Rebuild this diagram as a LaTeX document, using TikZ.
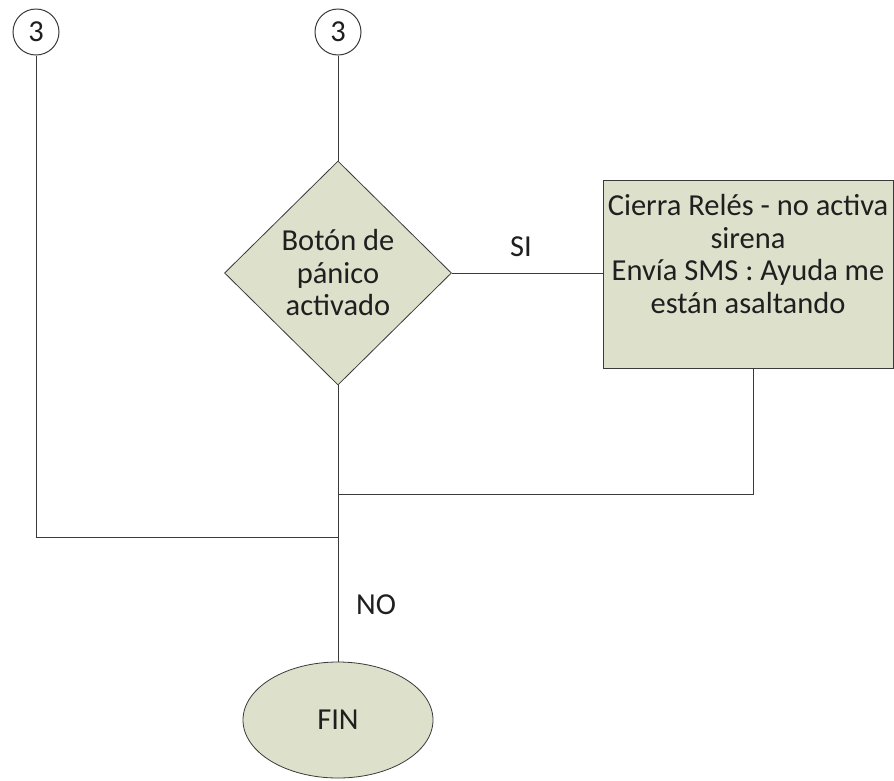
\documentclass[tikz,border=0pt]{standalone}
\usepackage{fontspec}
\setmainfont{Carlito}
\usetikzlibrary{shapes.geometric}
\definecolor{boxfill}{HTML}{DDE0CB}
\definecolor{inkline}{HTML}{3A3A3A}
\begin{document}
\begin{tikzpicture}[x=1pt,y=-1pt,
  every node/.style={font=\fontsize{30.5}{32.5}\selectfont, text=black!88},
  conn/.style={draw=inkline, line width=0.9pt},
  connector/.style={circle, draw=inkline, line width=1pt, minimum size=46pt, inner sep=0pt, fill=white},
  decision/.style={diamond, draw=inkline, line width=0.8pt, fill=boxfill, minimum width=227pt, minimum height=224pt, inner sep=0pt, align=center, aspect=1},
  process/.style={rectangle, draw=inkline, line width=0.9pt, fill=boxfill},
  terminal/.style={ellipse, draw=inkline, line width=0.8pt, fill=boxfill, minimum width=190pt, minimum height=116pt, inner sep=0pt}
]
\useasboundingbox (0,0) rectangle (894,780);

% off-page connectors
\node[connector] (c1) at (36,32) {3};
\node[connector] (c2) at (338,32) {3};

% decision
\node[decision] (dec) at (338,273) {Botón de\\pánico\\activado};

% action box
\node[process, minimum width=290pt, minimum height=188pt, anchor=north west] (act) at (603,180) {};
\node[anchor=north, align=center] (acttext) at (748,191) {Cierra Relés - no activa\\sirena\\Envía SMS : Ayuda me\\están asaltando};

% end
\node[terminal] (fin) at (338,720) {FIN};

% junction points
\coordinate (jA) at (338,494);
\coordinate (jB) at (338,537);
\coordinate (actdown) at (753,368);

% connectors
\draw[conn] (c2) -- (dec.north);
\draw[conn] (dec.east) -- (act.west |- dec.east);
\draw[conn] (dec.south) -- (fin.north);
\draw[conn] (actdown) -- (actdown |- jA) -- (jA);
\draw[conn] (c1) -- (c1 |- jB) -- (jB);

% labels
\node (si) at (521,247) {SI};
\node (no) at (376,605) {NO};
\end{tikzpicture}
\end{document}
